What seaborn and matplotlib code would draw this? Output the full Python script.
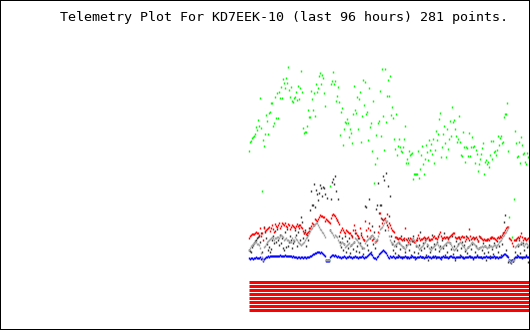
import numpy as np
import pandas as pd
import matplotlib
matplotlib.use("Agg")
import matplotlib.pyplot as plt
import seaborn as sns

title = "Telemetry Plot For KD7EEK-10 (last 96 hours) 281 points."

# five analog telemetry channels, 281 samples each (oldest -> newest)
green = [179,188,189,192,193,194,196,203,200,210,
         204,232,202,139,190,184,196,215,209,196,
         217,218,227,227,204,207,233,212,237,212,
         238,232,243,232,251,247,242,252,247,263,
         240,233,243,229,228,232,233,238,230,244,
         231,242,259,238,202,197,198,198,204,220,
         213,213,239,231,220,237,214,246,238,242,
         254,257,246,255,252,237,224,70,70,70,
         70,144,246,249,258,246,249,229,234,243,
         228,195,218,222,185,201,208,207,211,207,
         193,201,197,187,216,244,220,217,233,201,
         231,238,188,214,250,225,248,216,218,190,
         242,203,207,179,229,147,166,195,172,207,
         209,239,194,261,214,180,261,208,234,250,
         234,254,215,223,212,191,181,216,175,184,
         191,183,179,178,183,191,204,167,171,167,
         179,175,176,177,151,156,156,156,156,179,
         152,161,175,184,166,156,171,185,178,170,
         190,180,186,176,191,167,180,199,190,196,
         211,217,173,183,196,204,187,173,201,181,
         191,209,194,223,208,210,201,194,188,191,
         214,188,175,174,198,183,168,183,182,174,
         197,174,183,193,183,184,167,180,176,159,
         166,171,176,182,187,156,168,170,166,168,
         163,175,189,171,189,178,179,175,180,194,
         185,192,194,187,188,213,216,216,227,179,
         113,70,70,93,70,131,199,187,173,174,
         188,167,193,185,176,177,168,166,177,173,
         173]

black = [80,79,78,83,85,87,89,90,92,93,
         94,88,97,78,70,103,98,92,86,80,
         83,78,81,90,94,87,99,88,101,90,
         85,95,87,92,82,80,98,83,101,84,
         88,94,90,82,87,89,100,95,84,98,
         105,90,113,108,92,97,100,84,95,90,
         102,120,139,125,125,146,123,140,136,130,
         137,145,142,134,143,142,136,70,132,70,
         70,100,131,148,151,146,154,139,110,131,
         94,88,83,92,80,86,94,78,89,82,
         92,77,85,94,81,88,97,79,84,92,
         78,87,95,82,76,90,124,123,85,80,
         131,92,78,104,86,98,82,121,125,147,
         117,125,125,111,154,150,100,157,105,144,
         114,134,94,86,80,89,77,84,92,75,
         87,81,94,73,83,90,78,85,72,92,
         80,86,75,89,94,78,71,84,90,77,
         85,98,80,73,87,82,92,75,84,70,
         90,78,83,95,74,86,81,72,88,94,
         79,84,71,90,82,97,75,85,78,92,
         73,87,81,94,76,84,70,89,80,86,
         93,75,82,88,72,85,79,94,77,83,
         90,74,81,86,71,92,78,84,75,89,
         82,93,73,80,87,77,84,70,90,78,
         85,74,92,81,76,87,72,83,89,78,
         84,94,75,86,97,108,115,80,74,68,
         70,68,67,70,69,72,78,90,75,84,
         92,77,86,73,87,80,92,75,83,68,
         85]

red = [92,94,95,96,96,96,97,98,97,97,
       95,102,94,97,90,102,99,100,101,102,
       103,99,102,105,101,98,106,104,103,105,
       107,102,104,107,106,105,107,104,103,106,
       105,101,103,105,104,103,102,104,106,104,
       102,105,103,102,99,97,98,96,97,98,
       99,102,104,107,106,105,111,110,109,111,
       113,115,114,114,113,113,109,111,110,109,
       108,107,112,115,116,115,114,112,110,108,
       106,98,100,102,100,98,97,100,99,98,
       97,97,95,93,100,105,100,97,95,94,
       92,102,97,93,91,90,109,100,94,102,
       107,100,94,90,91,92,88,89,90,98,
       104,117,112,107,110,111,112,108,116,103,
       107,105,102,100,99,98,93,93,92,91,
       92,92,91,90,91,92,102,91,90,88,
       90,92,91,90,89,88,88,90,92,95,
       92,90,91,91,92,93,90,91,92,93,
       91,90,91,91,93,94,92,92,91,93,
       96,98,94,92,92,93,92,93,93,91,
       93,94,95,96,97,97,93,92,92,93,
       92,91,93,94,93,93,89,91,93,92,
       101,94,91,92,93,91,92,93,91,89,
       94,93,92,91,90,91,90,90,91,91,
       90,92,93,93,92,92,91,90,92,93,
       92,93,93,95,97,98,100,102,103,103,
       92,91,90,87,84,90,90,91,92,93,
       90,94,97,93,90,92,91,90,91,92,
       89]

blue = [72,71,72,72,71,72,72,73,72,72,
        72,73,71,72,69,71,72,73,73,74,
        73,74,74,74,74,74,74,74,74,74,
        74,75,74,74,74,74,75,74,74,74,
        74,74,74,73,74,73,73,73,72,73,
        73,72,73,73,72,73,73,72,73,73,
        73,74,74,75,76,76,77,77,78,78,
        78,77,78,77,76,75,74,69,69,69,
        69,73,74,75,75,74,75,74,73,74,
        73,73,72,73,73,74,73,72,73,73,
        74,73,73,72,73,73,74,73,73,72,
        73,73,73,74,73,72,73,73,74,75,
        76,77,76,75,73,72,72,71,73,74,
        76,77,78,79,80,79,78,77,75,73,
        72,74,73,73,74,73,72,73,73,73,
        74,73,73,72,73,73,74,73,73,73,
        72,73,73,74,73,73,73,72,73,73,
        73,74,73,73,73,72,73,73,73,74,
        73,73,72,73,73,73,74,73,73,73,
        73,72,73,73,74,73,73,73,73,72,
        73,74,74,73,73,73,72,73,73,73,
        73,73,74,73,73,72,73,73,73,73,
        74,73,73,73,72,73,73,73,74,73,
        73,73,73,72,73,73,73,74,73,73,
        73,72,73,73,73,74,73,73,73,72,
        73,73,73,74,75,76,76,75,74,73,
        70,69,69,70,69,71,73,73,73,74,
        73,73,73,72,73,73,73,74,73,73,
        73]

gray = [80,82,84,85,86,87,88,88,86,86,
        85,82,77,73,70,83,84,86,88,89,
        90,91,92,93,92,90,92,92,93,93,
        92,94,95,94,93,90,91,92,90,90,
        89,88,88,92,90,90,93,91,90,88,
        87,86,85,86,87,88,90,92,93,95,
        97,99,101,102,104,105,106,107,107,105,
        103,101,100,98,97,95,93,70,70,70,
        70,100,98,97,95,93,95,94,93,90,
        88,85,87,88,87,86,83,84,85,86,
        87,84,85,86,87,88,92,91,90,88,
        87,85,84,83,82,82,87,89,90,91,
        92,93,94,95,94,92,88,90,91,94,
        97,101,102,103,105,107,110,109,109,100,
        94,90,88,87,86,84,85,86,87,88,
        88,86,85,84,83,82,81,83,85,86,
        87,89,90,91,92,90,88,85,84,83,
        81,82,83,84,85,87,88,90,86,85,
        82,81,80,82,83,84,85,86,87,85,
        83,81,82,83,84,85,86,87,88,88,
        88,87,85,83,81,80,81,82,84,85,
        87,88,87,85,84,83,81,80,82,83,
        84,85,87,88,87,86,85,83,82,81,
        82,83,83,84,83,84,84,83,82,83,
        83,84,84,83,84,85,85,84,85,86,
        88,89,90,92,94,95,97,98,100,102,
        70,69,68,69,70,70,83,84,85,86,
        85,86,88,87,85,84,86,87,86,84,
        83]

# eight digital telemetry bits (all set during the window)
digital_bits = [1, 1, 1, 1, 1, 1, 1, 1]

channel_colors = {"green": "#00ff00", "black": "#383838", "red": "#ff0000",
                  "blue": "#0000ff", "gray": "#a0a0a0"}

sns.set_theme(style="white")
fig = plt.figure(figsize=(5.3, 3.3), dpi=100)
fig.patch.set_facecolor("white")
ax = fig.add_axes([0, 0, 1, 1])
ax.set_facecolor("white")

sample = np.arange(len(green))
df = pd.DataFrame({"sample": sample, "green": green, "black": black,
                   "red": red, "blue": blue, "gray": gray})
long = df.melt(id_vars="sample", var_name="channel", value_name="value")

sns.scatterplot(data=long, x="sample", y="value", hue="channel",
                palette=channel_colors, marker="|", s=3.5, linewidth=1.0,
                legend=False, ax=ax)

# digital bits drawn as stacked stripes below the analog traces
bit_rows = []
for k, b in enumerate(digital_bits):
    lane = 48.5 - 4 * k
    for s_ in sample:
        bit_rows.append({"sample": s_, "bit": k, "lane": lane if b else np.nan})
bits_df = pd.DataFrame(bit_rows)
sns.lineplot(data=bits_df, x="sample", y="lane", units="bit", estimator=None,
             color="#ff0000", linewidth=2.16, ax=ax, legend=False)
for ln in ax.lines:
    ln.set_solid_capstyle("butt")

ax.set_xlim(-248.5, 281.5)
ax.set_ylim(0, 330)
ax.set_xticks([])
ax.set_yticks([])
ax.set_xlabel("")
ax.set_ylabel("")
for sp in ax.spines.values():
    sp.set_visible(True)
    sp.set_color("black")
    sp.set_linewidth(1.44)

fig.text(60 / 530, 1 - 18 / 330, title, family="DejaVu Sans Mono",
         fontsize=9.6, va="center", ha="left", color="black")

fig.savefig("out.png", dpi=100)
